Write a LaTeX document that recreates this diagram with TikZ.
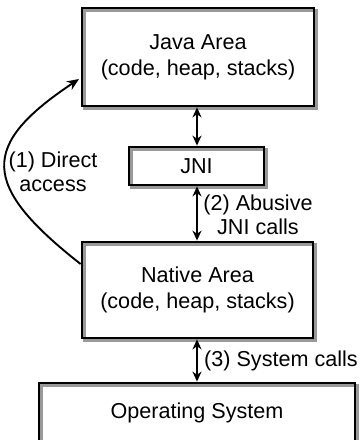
\documentclass[tikz,border=0pt]{standalone}
\usepackage{fontspec}
\setmainfont{Liberation Sans}
\usetikzlibrary{arrows.meta}
\begin{document}
\begin{tikzpicture}[x=1pt,y=-1pt,
  box/.style={draw=black,line width=2.8pt,minimum width=#1,inner sep=0pt,align=center,
    font=\fontsize{21.6}{25.7}\selectfont},
  shade/.style={draw=black!40,line width=2.2pt},
  lbl/.style={font=\fontsize{21.6}{24}\selectfont,align=center,inner sep=0pt},
  biarrow/.style={line width=2.4pt,{Stealth[length=10pt,width=9pt]}-{Stealth[length=10pt,width=9pt]}},
  curvearrow/.style={line width=1.9pt,-{Stealth[length=12pt,width=10pt]}}]
\useasboundingbox (0,0) rectangle (360,440);
\clip (0,0) rectangle (360,440);
% shadows
\draw[shade] (84.5,10.5) rectangle (316.5,108.5);
\draw[shade] (131.5,149.5) rectangle (266.5,187.5);
\draw[shade] (84.5,244.5) rectangle (315.5,340.5);
\draw[shade] (41.5,385.5) rectangle (357.5,445);
% boxes
\node[box=232pt,minimum height=98pt] (java) at (198,57) {Java Area\\(code, heap, stacks)};
\node[box=135pt,minimum height=38pt] (jni) at (196.5,166) {JNI};
\node[box=231pt,minimum height=96pt] (native) at (197.5,290) {Native Area\\(code, heap, stacks)};
\node[box=316pt,minimum height=60pt] (os) at (197,413) {Operating System};
% arrows
\draw[biarrow] (java.south -| 197,0) -- (jni.north -| 197,0);
\draw[biarrow] (jni.south -| 197,0) -- (native.north -| 197,0);
\draw[biarrow] (native.south -| 197,0) -- (os.north -| 197,0);
\coordinate (cs) at (native.west |- 0,264);
\coordinate (ce) at (79,79);
\draw[curvearrow] (cs) .. controls (-20,185) and (-20,145) .. (ce);
% labels
\node[lbl] (l1) at (53,172) {(1) Direct\\access};
\node[lbl] (l2) at (258,215) {(2) Abusive\\JNI calls};
\node[lbl,anchor=west] (l3) at (204,361) {(3) System calls};
\end{tikzpicture}
\end{document}
